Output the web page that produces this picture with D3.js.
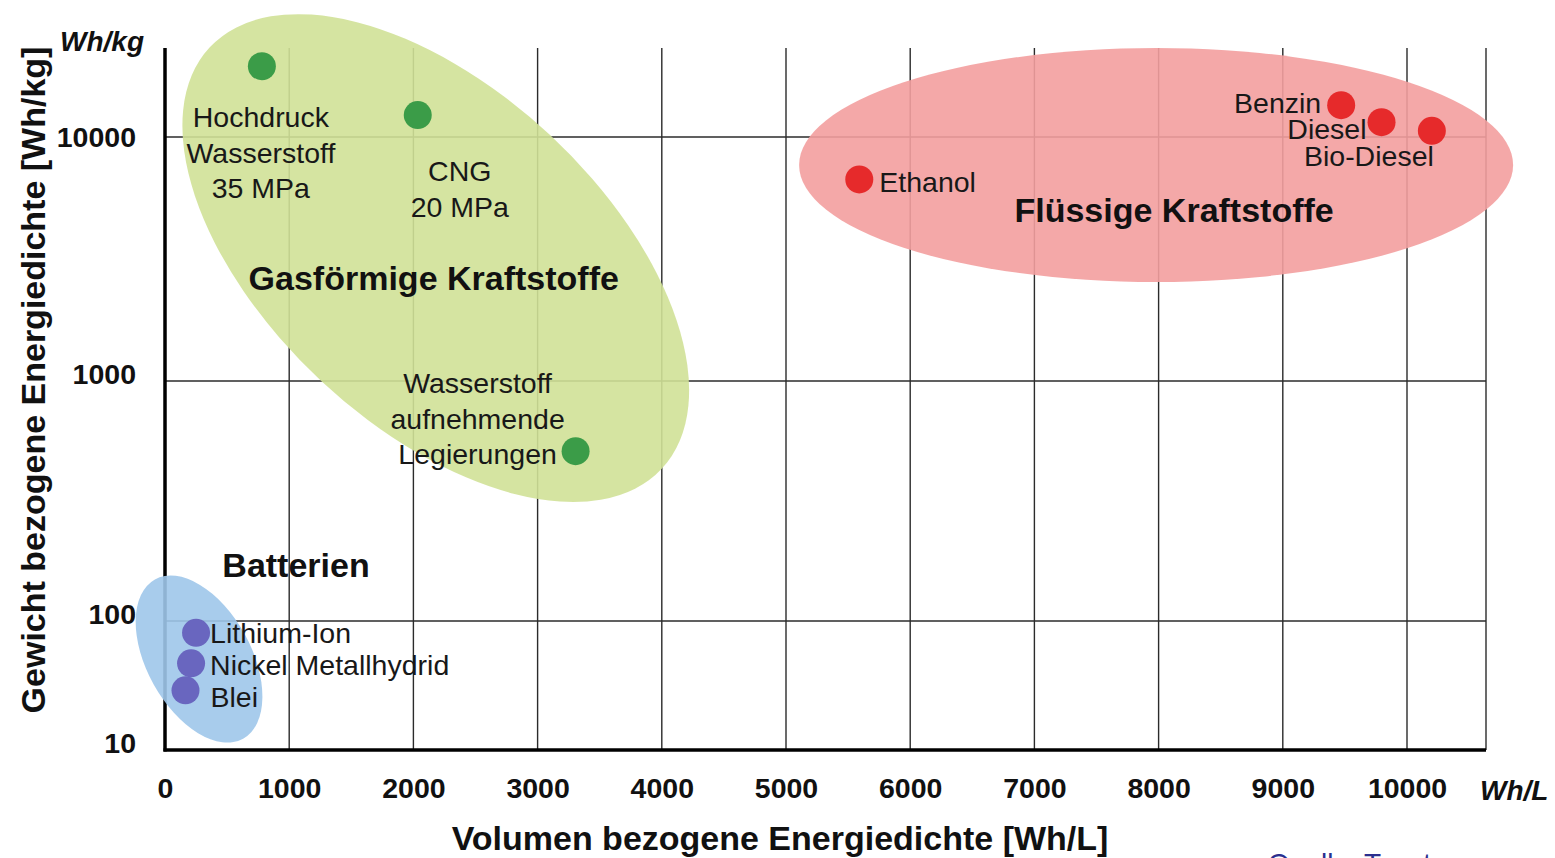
<!DOCTYPE html>
<html>
<head>
<meta charset="utf-8">
<script src="https://cdn.jsdelivr.net/npm/d3@7"></script>
<style>
  html, body { margin: 0; padding: 0; background: #fff; }
  svg { display: block; font-family: "Liberation Sans", Arial, sans-serif; }
</style>
</head>
<body>
<svg id="chart" width="1555" height="858"></svg>
<script>
// ---------- data ----------
const xTicks = [0, 1000, 2000, 3000, 4000, 5000, 6000, 7000, 8000, 9000, 10000];
const yTicks = [10, 100, 1000, 10000];

const fuelNames = ["Hochdruck\nWasserstoff\n35 MPa", "CNG\n20 MPa", "Wasserstoff\naufnehmende\nLegierungen",
                   "Ethanol", "Benzin", "Diesel", "Bio-Diesel",
                   "Lithium-Ion", "Nickel Metallhydrid", "Blei"];
const fuelVolumetric = [780, 2035, 3306, 5590, 9470, 9795, 10200, 250, 210, 165];   // Wh/L
const fuelGravimetric = [19500, 12300, 510, 6700, 13500, 11500, 10600, 81, 47, 29]; // Wh/kg
const fuelGroup = ["gas", "gas", "gas", "liq", "liq", "liq", "liq", "bat", "bat", "bat"];

const groupKeys = ["gas", "liq", "bat"];
const groupNames = ["Gasförmige Kraftstoffe", "Flüssige Kraftstoffe", "Batterien"];
const groupCenterVol = [2180, 7980, 274];
const groupCenterGrav = [3190, 7680, 50.7];

const xTitle = "Volumen bezogene Energiedichte [Wh/L]";
const yTitle = "Gewicht bezogene Energiedichte [Wh/kg]";
const xUnit = "Wh/L";
const yUnit = "Wh/kg";
const source = "Quelle: Toyota";

// ---------- layout / style ----------
const plotLeft = 165, plotRight = 1486, plotTop = 48, plotBottom = 750;
const x = d3.scaleLinear().domain([0, 10000]).range([165, 1407]);
// the original axis spaces its decades unevenly -> piecewise log scale
const y = d3.scaleLog().domain([10, 100, 1000, 10000]).range([750, 621, 381, 137]);

const groupStyle = {
  gas: { fill: "#d0e197", rx: 309, ry: 168, rot: 43, dot: "#3b9c48", lab: [-2, 32] },
  liq: { fill: "#f39e9e", rx: 357, ry: 117, rot: 0, dot: "#e62a2b", lab: [18, 57] },
  bat: { fill: "#9fc7ea", rx: 91, ry: 52, rot: 61, dot: "#6966bf", lab: [97, -82] }
};
// label offsets (pixels) relative to each point: [dx, dy of first baseline, anchor]
const labelLayout = [
  [-1, 61, "middle"], [42, 66, "middle"], [-98, -58, "middle"],
  [20, 13, "start"], [-20, 8, "end"], [-15, 17, "end"], [2, 35, "end"],
  [14, 10, "start"], [19, 12, "start"], [25, 17, "start"]
];
const lineGap = 35.5;

const svg = d3.select("#chart");
svg.append("rect").attr("width", 1555).attr("height", 858).attr("fill", "#fff");

// gridlines
const grid = svg.append("g").attr("stroke", "#2b2b2b").attr("stroke-width", 1.4);
grid.selectAll("line.v").data(xTicks.filter(d => d > 0)).join("line")
  .attr("x1", d => x(d)).attr("x2", d => x(d))
  .attr("y1", plotTop).attr("y2", plotBottom);
grid.append("line").attr("x1", plotRight).attr("x2", plotRight).attr("y1", plotTop).attr("y2", plotBottom);
grid.selectAll("line.h").data(yTicks.filter(d => d > 10)).join("line")
  .attr("x1", plotLeft).attr("x2", plotRight)
  .attr("y1", d => y(d)).attr("y2", d => y(d));

// axes lines
svg.append("line").attr("x1", plotLeft).attr("x2", plotLeft).attr("y1", plotTop).attr("y2", plotBottom + 1.5)
  .attr("stroke", "#000").attr("stroke-width", 3.5);
svg.append("line").attr("x1", plotLeft - 1.5).attr("x2", plotRight).attr("y1", plotBottom).attr("y2", plotBottom)
  .attr("stroke", "#000").attr("stroke-width", 3.5);

// axis tick labels via d3 axes
const xAxis = svg.append("g").attr("transform", `translate(0,${plotBottom})`)
  .call(d3.axisBottom(x).tickValues(xTicks).tickSize(0).tickPadding(28).tickFormat(d3.format("d")));
xAxis.select(".domain").remove();
xAxis.selectAll("text").attr("font-size", 28.5).attr("font-weight", "bold").attr("fill", "#111")
  .attr("font-family", "Liberation Sans, Arial, sans-serif");

const yAxis = svg.append("g").attr("transform", `translate(${plotLeft},0)`)
  .call(d3.axisLeft(y).tickValues(yTicks).tickSize(0).tickPadding(29).tickFormat(d3.format("d")));
yAxis.select(".domain").remove();
yAxis.selectAll("text").attr("font-size", 28.5).attr("font-weight", "bold").attr("fill", "#111")
  .attr("dy", d => d >= 10000 ? "0.35em" : "0.1em").attr("font-family", "Liberation Sans, Arial, sans-serif");

// group ellipses
groupKeys.forEach((k, i) => {
  const s = groupStyle[k];
  svg.append("ellipse")
    .attr("transform", `translate(${x(groupCenterVol[i])},${y(groupCenterGrav[i])}) rotate(${s.rot})`)
    .attr("rx", s.rx).attr("ry", s.ry)
    .attr("fill", s.fill).attr("fill-opacity", 0.9);
});

// points
svg.selectAll("circle.pt").data(fuelNames.map((n, i) => i)).join("circle")
  .attr("cx", i => x(fuelVolumetric[i])).attr("cy", i => y(fuelGravimetric[i]))
  .attr("r", 14).attr("fill", i => groupStyle[fuelGroup[i]].dot);

// point labels
fuelNames.forEach((n, i) => {
  const [dx, dy, anchor] = labelLayout[i];
  const px = x(fuelVolumetric[i]), py = y(fuelGravimetric[i]);
  const t = svg.append("text").attr("font-size", 28.5).attr("fill", "#181818")
    .attr("text-anchor", anchor);
  n.split("\n").forEach((line, j) => {
    t.append("tspan").attr("x", px + dx).attr("y", py + dy + j * lineGap).text(line);
  });
});

// group labels
groupKeys.forEach((k, i) => {
  const s = groupStyle[k];
  svg.append("text")
    .attr("x", x(groupCenterVol[i]) + s.lab[0]).attr("y", y(groupCenterGrav[i]) + s.lab[1])
    .attr("text-anchor", "middle").attr("font-size", 34).attr("font-weight", "bold").attr("fill", "#111")
    .text(groupNames[i]);
});

// axis titles and units
svg.append("text").attr("x", 780).attr("y", 850).attr("text-anchor", "middle")
  .attr("font-size", 34).attr("font-weight", "bold").attr("fill", "#111").text(xTitle);
svg.append("text").attr("transform", "translate(45,380) rotate(-90)").attr("text-anchor", "middle")
  .attr("font-size", 34).attr("font-weight", "bold").attr("fill", "#111").text(yTitle);
svg.append("text").attr("x", 60).attr("y", 51).attr("font-size", 28).attr("font-weight", "bold")
  .attr("font-style", "italic").attr("fill", "#111").text(yUnit);
svg.append("text").attr("x", 1480).attr("y", 800).attr("font-size", 28).attr("font-weight", "bold")
  .attr("font-style", "italic").attr("fill", "#111").text(xUnit);
svg.append("text").attr("x", 1268).attr("y", 873).attr("font-size", 28).attr("fill", "#2b2f8f").text(source);
</script>
</body>
</html>
